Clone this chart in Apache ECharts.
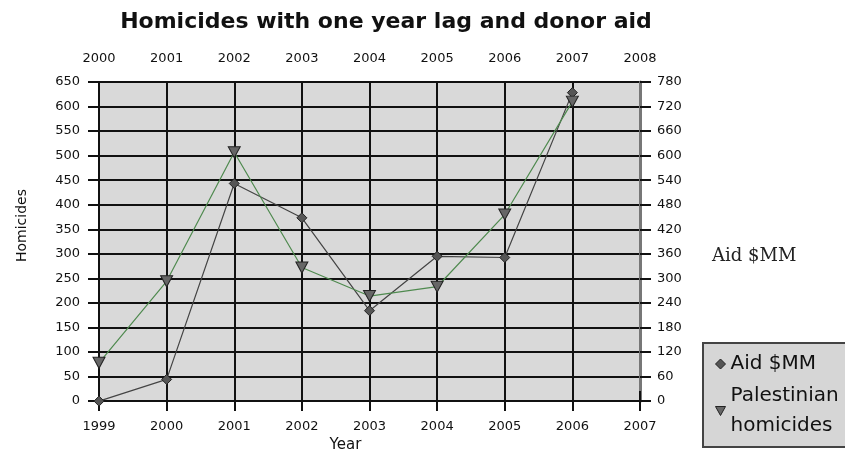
<!DOCTYPE html>
<html>
<head>
<meta charset="utf-8">
<script src="https://cdn.jsdelivr.net/npm/echarts@6/dist/echarts.min.js"></script>
<style>html,body{margin:0;padding:0;background:#fff;}#c{width:845px;height:458px;}</style>
</head>
<body>
<div id="c"></div>
<script>
const bottomYears = ['1999','2000','2001','2002','2003','2004','2005','2006','2007'];
const topYears = ['2000','2001','2002','2003','2004','2005','2006','2007','2008'];
const aidMM = [0, 53, 532, 448, 221, 354, 351, 754];
const homicides = [78, 244, 507, 272, 214, 233, 380, 610];

const downTri = 'path://M0,0L10,0L5,9Z';
const font = 'DejaVu Sans';
const chart = echarts.init(document.getElementById('c'));
chart.setOption({
  animation: false,
  backgroundColor: '#fff',
  title: {
    text: 'Homicides with one year lag and donor aid',
    left: 381, top: 6, textAlign: 'center',
    textStyle: {fontFamily: font, fontSize: 22, fontWeight: 'bold', color: '#111'}
  },
  grid: {left: 99, right: 205, top: 82, bottom: 52, show: true, backgroundColor: '#d9d9d9', borderWidth: 0},
  legend: {
    orient: 'vertical', left: 703, top: 343, height: 110,
    backgroundColor: '#d6d6d6', borderColor: '#444', borderWidth: 2,
    padding: [6, 12, 6, 12], itemGap: 2, itemWidth: 10, itemHeight: 10,
    textStyle: {fontFamily: font, fontSize: 20, color: '#111', lineHeight: 30},
    formatter: n => n.replace(' homicides', '\nhomicides'),
    data: [
      {name: 'Aid $MM', icon: 'diamond', itemStyle: {color: '#555', borderColor: '#222', borderWidth: 1}},
      {name: 'Palestinian homicides', icon: downTri, itemStyle: {color: '#666', borderColor: '#222', borderWidth: 1}}
    ]
  },
  xAxis: [
    {
      type: 'category', data: bottomYears, boundaryGap: false, position: 'bottom',
      name: 'Year', nameLocation: 'middle', nameGap: 35,
      nameTextStyle: {fontFamily: font, fontSize: 15, color: '#111', padding: [0, 48, 0, 0]},
      axisLine: {show: true, lineStyle: {color: '#111', width: 2}},
      axisTick: {show: true, length: 10, lineStyle: {color: '#111', width: 2}},
      axisLabel: {fontFamily: font, fontSize: 13, color: '#111', margin: 19},
      splitLine: {show: true, lineStyle: {color: '#111', width: 2}}
    },
    {
      type: 'category', data: topYears, boundaryGap: false, position: 'top',
      axisLine: {show: false},
      axisTick: {show: true, length: 10, lineStyle: {color: '#111', width: 2}},
      axisLabel: {fontFamily: font, fontSize: 13, color: '#111', margin: 17},
      splitLine: {show: false}
    }
  ],
  yAxis: [
    {
      type: 'value', min: 0, max: 650, interval: 50, position: 'left',
      name: 'Homicides', nameLocation: 'middle', nameGap: 70,
      nameTextStyle: {fontFamily: font, fontSize: 14, color: '#111', padding: [0, 0, 0, 32]},
      axisLine: {show: true, lineStyle: {color: '#111', width: 2}},
      axisTick: {show: true, length: 11, lineStyle: {color: '#111', width: 2}},
      axisLabel: {fontFamily: font, fontSize: 13, color: '#111', margin: 19},
      splitLine: {show: true, lineStyle: {color: '#111', width: 2}}
    },
    {
      type: 'value', min: 0, max: 780, interval: 60, position: 'right',
      name: 'Aid $MM', nameLocation: 'middle', nameGap: 72, nameRotate: 0,
      nameTextStyle: {fontFamily: 'DejaVu Serif', fontSize: 18, color: '#222', verticalAlign: 'top', padding: [6, 0, 0, 0]},
      axisLine: {show: true, lineStyle: {color: '#777', width: 3}},
      axisTick: {show: true, length: 11, lineStyle: {color: '#111', width: 2}},
      axisLabel: {fontFamily: font, fontSize: 13, color: '#111', margin: 17},
      splitLine: {show: false}
    }
  ],
  series: [
    {
      name: 'Aid $MM', type: 'line', xAxisIndex: 0, yAxisIndex: 1, data: aidMM,
      symbol: 'diamond', symbolSize: 10,
      lineStyle: {color: '#444', width: 1.2},
      itemStyle: {color: '#555', borderColor: '#222', borderWidth: 1}, z: 3
    },
    {
      name: 'Palestinian homicides', type: 'line', xAxisIndex: 0, yAxisIndex: 0, data: homicides,
      symbol: downTri, symbolSize: [12, 11],
      lineStyle: {color: '#4f8a4f', width: 1.2},
      itemStyle: {color: '#666', borderColor: '#222', borderWidth: 1}, z: 4
    }
  ]
});
</script>
</body>
</html>
